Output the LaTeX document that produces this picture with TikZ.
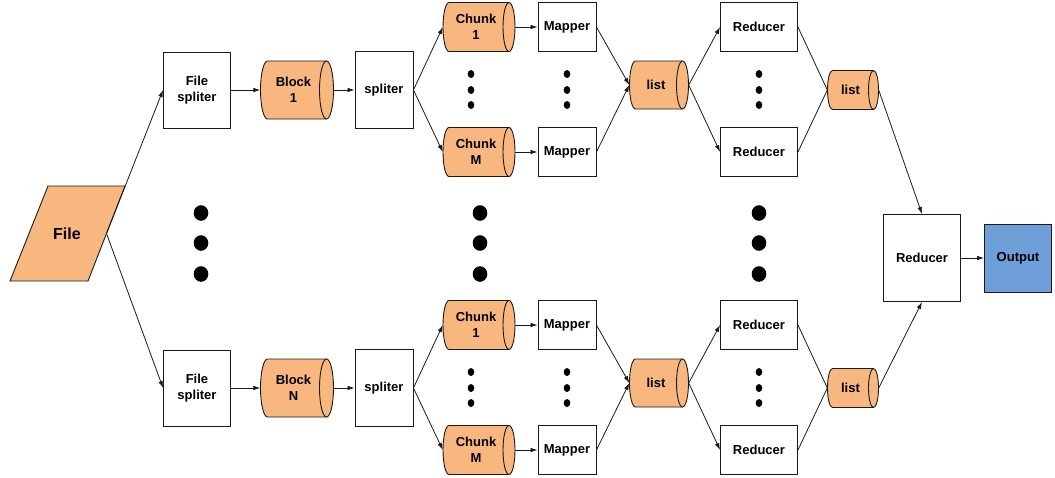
\documentclass[tikz,border=0pt]{standalone}
\usepackage{fontspec}
\setmainfont{Liberation Sans}
\usetikzlibrary{arrows.meta}
\definecolor{cylorange}{HTML}{F7B77F}
\definecolor{outblue}{HTML}{6F9FD8}
\definecolor{edgec}{HTML}{1A1A1A}
\tikzset{
  txt/.style={font=\fontsize{13pt}{16pt}\selectfont\bfseries, align=center, inner sep=0pt},
  boxnode/.style={draw=edgec, line width=0.9pt, fill=white, inner sep=0pt, font=\fontsize{13pt}{16pt}\selectfont\bfseries, align=center},
  cylbody/.style={draw=edgec, line width=0.9pt, fill=cylorange},
  arr/.style={draw=edgec, line width=0.8pt, -{Latex[length=7pt,width=4.6pt]}},
  plain/.style={draw=edgec, line width=0.8pt},
}
\newcommand\mycyl[7]{% name, x, y, w, h, rx, text
  \pgfmathsetmacro\cylXL{#2-#4/2+#6}
  \pgfmathsetmacro\cylXR{#2+#4/2-#6}
  \pgfmathsetmacro\cylYT{#3+#5/2}
  \pgfmathsetmacro\cylYB{#3-#5/2}
  \pgfmathsetmacro\cylRY{#5/2}
  \pgfmathsetmacro\cylTX{#2-#6/2}
  \path[cylbody] (\cylXL,\cylYT) -- (\cylXR,\cylYT)
     arc[start angle=90,end angle=-90,x radius=#6pt,y radius=\cylRY pt]
     -- (\cylXL,\cylYB)
     arc[start angle=270,end angle=90,x radius=#6pt,y radius=\cylRY pt] -- cycle;
  \draw[edgec, line width=0.9pt] (\cylXR,\cylYT) arc[start angle=90,end angle=270,x radius=#6pt,y radius=\cylRY pt];
  \node[inner sep=0pt, minimum width=#4pt, minimum height=#5pt] (#1) at (#2,#3) {};
  \node[txt] (#1t) at (\cylTX,#3) {#7};
}
\begin{document}
\begin{tikzpicture}[x=1pt,y=1pt]
\useasboundingbox (0,0) rectangle (1055,-477);

% File parallelogram
\path[cylbody] (48,-186) -- (125,-186) -- (88,-281) -- (10,-281) -- cycle;
\node[txt, font=\fontsize{16pt}{18pt}\selectfont\bfseries] (file) at (67,-234) {File};
\coordinate (fileE) at (106.5,-233.5);

% ---- top half ----
\node[boxnode, minimum width=67pt, minimum height=76pt] (fs1) at (197,-90) {File\\spliter};
\mycyl{blk1}{297}{-90}{73}{58}{7}{Block\\1}
\node[boxnode, minimum width=58pt, minimum height=77pt] (sp1) at (384,-90) {spliter};
\mycyl{chA1}{479}{-27}{72}{49}{6}{Chunk\\1}
\mycyl{chM1}{479}{-152}{72}{49}{6}{Chunk\\M}
\node[boxnode, minimum width=58pt, minimum height=49pt] (mpA1) at (567,-27) {Mapper};
\node[boxnode, minimum width=58pt, minimum height=49pt] (mpM1) at (567,-152) {Mapper};
\mycyl{ls1}{659}{-85}{59}{48}{6}{list}
\node[boxnode, minimum width=77pt, minimum height=49pt] (rdA1) at (759,-27) {Reducer};
\node[boxnode, minimum width=77pt, minimum height=49pt] (rdM1) at (759,-152) {Reducer};
\mycyl{lsb1}{853}{-90}{51}{39}{5}{list}

% ---- bottom half ----
\node[boxnode, minimum width=67pt, minimum height=76pt] (fs2) at (197,-388) {File\\spliter};
\mycyl{blk2}{297}{-388}{73}{58}{7}{Block\\N}
\node[boxnode, minimum width=58pt, minimum height=77pt] (sp2) at (384,-388) {spliter};
\mycyl{chA2}{479}{-325}{72}{49}{6}{Chunk\\1}
\mycyl{chM2}{479}{-450}{72}{49}{6}{Chunk\\M}
\node[boxnode, minimum width=58pt, minimum height=49pt] (mpA2) at (567,-325) {Mapper};
\node[boxnode, minimum width=58pt, minimum height=49pt] (mpM2) at (567,-450) {Mapper};
\mycyl{ls2}{659}{-383}{59}{48}{6}{list}
\node[boxnode, minimum width=77pt, minimum height=49pt] (rdA2) at (759,-325) {Reducer};
\node[boxnode, minimum width=77pt, minimum height=49pt] (rdM2) at (759,-450) {Reducer};
\mycyl{lsb2}{853}{-388}{51}{39}{5}{list}

% final
\node[boxnode, minimum width=77pt, minimum height=87pt] (big) at (922,-258) {Reducer};
\node[boxnode, fill=outblue, minimum width=67pt, minimum height=68pt] (out) at (1018,-258) {Output};

% connectors
\draw[arr] (fileE) -- (fs1.west);
\draw[arr] (fileE) -- (fs2.west);
\foreach \s in {1,2}{
  \draw[arr] (fs\s.east) -- (blk\s.west);
  \draw[arr] (blk\s.east) -- (sp\s.west);
  \draw[arr] (sp\s.east) -- (chA\s.west);
  \draw[arr] (sp\s.east) -- (chM\s.west);
  \draw[arr] (chA\s.east) -- (mpA\s.west);
  \draw[arr] (chM\s.east) -- (mpM\s.west);
  \draw[arr] (mpA\s.east) -- (ls\s.west);
  \draw[arr] (mpM\s.east) -- (ls\s.west);
  \draw[arr] (ls\s.east) -- (rdA\s.west);
  \draw[arr] (ls\s.east) -- (rdM\s.west);
  \draw[plain] (rdA\s.east) -- (lsb\s.west);
  \draw[plain] (rdM\s.east) -- (lsb\s.west);
}
\draw[arr] (lsb1.east) -- (big.north);
\draw[arr] (lsb2.east) -- (big.south);
\draw[arr] (big.east) -- (out.west);

% small dots
\foreach \x in {471,567,759}{
  \foreach \y in {74,90,105,372,388,403}{
    \fill[black] (\x,-\y) ellipse[x radius=3.3pt, y radius=4pt];
  }
}
% big dots
\foreach \x in {201,480,759}{
  \foreach \y in {213,243,274}{
    \fill[black] (\x,-\y) ellipse[x radius=7.3pt, y radius=7.8pt];
  }
}
\end{tikzpicture}
\end{document}
